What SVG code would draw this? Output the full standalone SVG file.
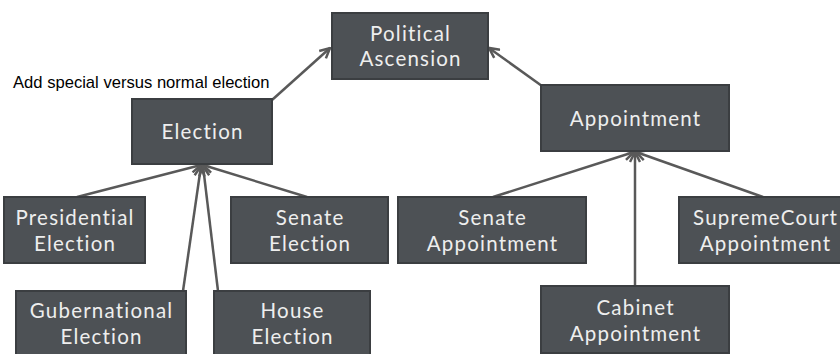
<svg xmlns="http://www.w3.org/2000/svg" width="840" height="354" viewBox="0 0 840 354">
<defs>
<style>
.box{fill:#4d5155;stroke:#3b3e41;stroke-width:2}
.t{font-family:Lato,"Noto Sans",sans-serif;font-size:20.5px;letter-spacing:1.2px;fill:#eeeeee;text-anchor:middle}
.c{stroke:#595959;stroke-width:2.5;fill:none;marker-end:url(#ah)}
.note{font-family:"Liberation Sans",Arial,sans-serif;font-size:16.6px;fill:#000}
</style>
<marker id="ah" viewBox="0 0 10 10" refX="9" refY="5" markerWidth="5" markerHeight="5" orient="auto" markerUnits="strokeWidth">
<path d="M1,1 L9,5 L1,9" fill="none" stroke="#595959" stroke-width="2"/>
</marker>
</defs>
<rect width="840" height="354" fill="#fff"/>
<g id="connectors">
<line class="c" x1="272" y1="100" x2="330" y2="48"/>
<line class="c" x1="542" y1="86" x2="489" y2="48"/>
<line class="c" x1="77" y1="197" x2="201" y2="165"/>
<line class="c" x1="307" y1="197" x2="203" y2="165"/>
<line class="c" x1="183" y1="291" x2="201" y2="166"/>
<line class="c" x1="218" y1="291" x2="203" y2="166"/>
<line class="c" x1="493" y1="197" x2="634" y2="152"/>
<line class="c" x1="635" y1="286" x2="635" y2="152"/>
<line class="c" x1="763" y1="197" x2="636" y2="152"/>
</g>
<text class="note" x="13" y="88">Add special versus normal election</text>
<g id="political-ascension">
<rect class="box" x="332" y="13" width="156" height="66"/>
<text class="t" x="410.600" y="41">Political</text>
<text class="t" x="410.600" y="66">Ascension</text>
</g>
<g id="election">
<rect class="box" x="132" y="99" width="140" height="65"/>
<text class="t" x="202.600" y="139">Election</text>
</g>
<g id="appointment">
<rect class="box" x="541" y="85" width="188" height="66"/>
<text class="t" x="635.600" y="126">Appointment</text>
</g>
<g id="presidential-election">
<rect class="box" x="4" y="197" width="141" height="66"/>
<text class="t" x="75.100" y="225">Presidential</text>
<text class="t" x="75.100" y="251">Election</text>
</g>
<g id="senate-election">
<rect class="box" x="231" y="197" width="157" height="66"/>
<text class="t" x="310.100" y="225">Senate</text>
<text class="t" x="310.100" y="251">Election</text>
</g>
<g id="gubernational-election">
<rect class="box" x="16" y="291" width="170" height="70"/>
<text class="t" x="101.600" y="318">Gubernational</text>
<text class="t" x="101.600" y="344">Election</text>
</g>
<g id="house-election">
<rect class="box" x="214" y="291" width="156" height="70"/>
<text class="t" x="292.600" y="318">House</text>
<text class="t" x="292.600" y="344">Election</text>
</g>
<g id="senate-appointment">
<rect class="box" x="398" y="197" width="188" height="66"/>
<text class="t" x="492.600" y="225">Senate</text>
<text class="t" x="492.600" y="251">Appointment</text>
</g>
<g id="supremecourt-appointment">
<rect class="box" x="679" y="197" width="170" height="66"/>
<text class="t" x="765.600" y="225">SupremeCourt</text>
<text class="t" x="765.600" y="251">Appointment</text>
</g>
<g id="cabinet-appointment">
<rect class="box" x="541" y="286" width="188" height="67"/>
<text class="t" x="635.600" y="315">Cabinet</text>
<text class="t" x="635.600" y="341">Appointment</text>
</g>
</svg>
